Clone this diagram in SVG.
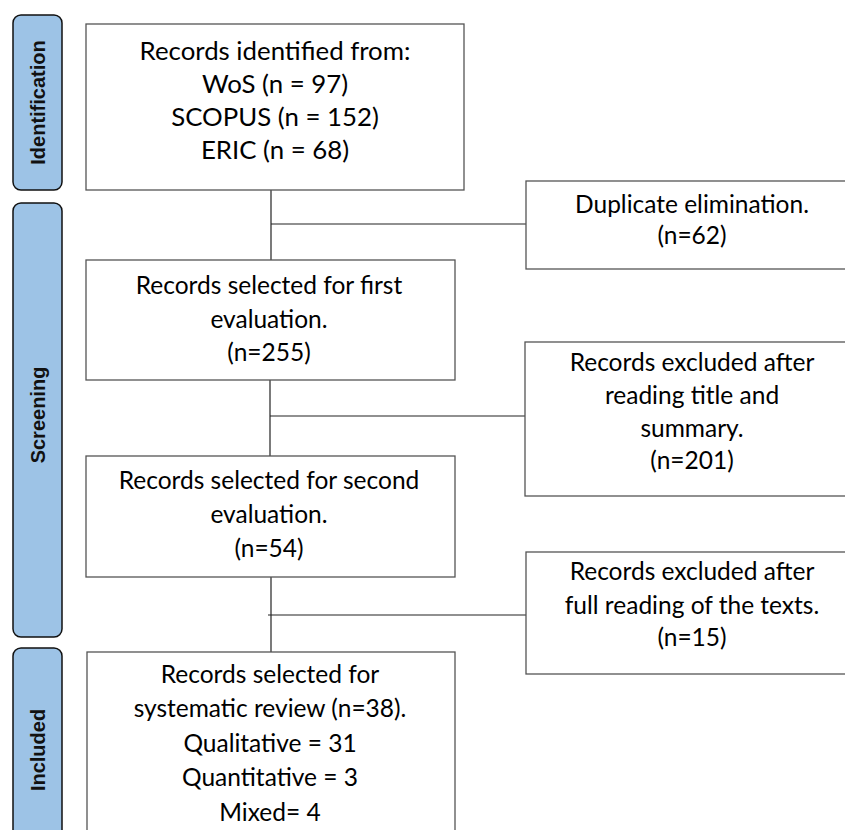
<svg xmlns="http://www.w3.org/2000/svg" width="845" height="830" viewBox="0 0 845 830">
<style>
.bg{fill:#ffffff}
.phase{fill:#9dc3e6;stroke:#111;stroke-width:1.5}
.plabel{font-family:"Liberation Sans",Arial,sans-serif;font-weight:bold;font-size:20px;fill:#111;text-anchor:middle}
.box{fill:#ffffff;stroke:#555;stroke-width:1.3}
.t{font-family:Lato,"Liberation Sans",sans-serif;font-size:24.5px;fill:#000;text-anchor:middle}
.t1{font-size:25.8px}
.conn{stroke:#222;stroke-width:1.2;fill:none}
</style>
<rect class="bg" x="0" y="0" width="845" height="830"/>

<g id="phase-identification">
<rect class="phase" x="13" y="15" width="49" height="175" rx="8"/>
<text class="plabel" transform="translate(44.5,102.5) rotate(-90)">Identification</text>
</g>
<g id="phase-screening">
<rect class="phase" x="13" y="203" width="49" height="434" rx="8"/>
<text class="plabel" transform="translate(44.5,415) rotate(-90)">Screening</text>
</g>
<g id="phase-included">
<rect class="phase" x="13" y="648" width="49" height="200" rx="8"/>
<text class="plabel" transform="translate(44.5,750) rotate(-90)">Included</text>
</g>

<g id="connectors">
<line class="conn" x1="271" y1="190" x2="271" y2="260"/>
<line class="conn" x1="271" y1="224" x2="526" y2="224"/>
<line class="conn" x1="270" y1="380" x2="270" y2="456"/>
<line class="conn" x1="270" y1="416" x2="525" y2="416"/>
<line class="conn" x1="271" y1="577" x2="271" y2="652"/>
<line class="conn" x1="268" y1="615" x2="526" y2="615"/>
</g>

<g id="records-identified">
<rect class="box" x="86" y="24" width="378" height="166"/>
<text class="t t1" x="275" y="60">Records identified from:</text>
<text class="t t1" x="275" y="93">WoS (n = 97)</text>
<text class="t t1" x="275" y="126">SCOPUS (n = 152)</text>
<text class="t t1" x="275" y="159">ERIC (n = 68)</text>
</g>

<g id="duplicate-elimination">
<rect class="box" x="526" y="181" width="340" height="88"/>
<text class="t" x="692" y="213">Duplicate elimination.</text>
<text class="t" x="692" y="244">(n=62)</text>
</g>

<g id="first-evaluation">
<rect class="box" x="86" y="260" width="369" height="120"/>
<text class="t" x="269" y="294">Records selected for first</text>
<text class="t" x="269" y="328">evaluation.</text>
<text class="t" x="269" y="361">(n=255)</text>
</g>

<g id="excluded-title-summary">
<rect class="box" x="525" y="342" width="340" height="154"/>
<text class="t" x="692" y="371">Records excluded after</text>
<text class="t" x="692" y="404">reading title and</text>
<text class="t" x="692" y="437">summary.</text>
<text class="t" x="692" y="469">(n=201)</text>
</g>

<g id="second-evaluation">
<rect class="box" x="86" y="456" width="369" height="121"/>
<text class="t" x="269" y="489">Records selected for second</text>
<text class="t" x="269" y="523">evaluation.</text>
<text class="t" x="269" y="557">(n=54)</text>
</g>

<g id="excluded-full-reading">
<rect class="box" x="526" y="552" width="340" height="122"/>
<text class="t" x="692" y="580">Records excluded after</text>
<text class="t" x="692" y="614">full reading of the texts.</text>
<text class="t" x="692" y="646">(n=15)</text>
</g>

<g id="systematic-review">
<rect class="box" x="87" y="652" width="368" height="200"/>
<text class="t" x="270" y="683">Records selected for</text>
<text class="t" x="270" y="717">systematic review (n=38).</text>
<text class="t" x="270" y="752">Qualitative = 31</text>
<text class="t" x="270" y="786">Quantitative = 3</text>
<text class="t" x="270" y="821">Mixed= 4</text>
</g>
</svg>
